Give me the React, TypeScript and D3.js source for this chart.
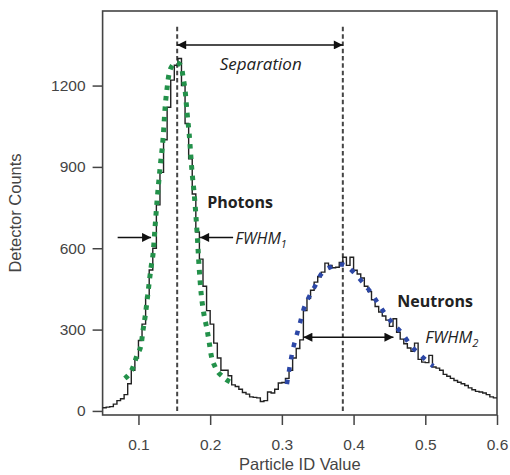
import { useEffect, useRef } from 'react'
import * as d3 from 'd3'

// histogram: bins of 0.005 starting at 0.05
const BIN_START = 0.05
const BIN_WIDTH = 0.005
const counts = [
  12, 14, 16, 25, 38, 45, 60, 100, 150, 195,
  260, 320, 420, 520, 600, 760, 880, 1000, 1120, 1220,
  1275, 1300, 1200, 1060, 930, 800, 660, 560, 460, 370,
  320, 250, 195, 150, 150, 130, 96, 90, 80, 68,
  62, 52, 50, 48, 35, 38, 70, 66, 80, 103,
  105, 120, 150, 195, 230, 262, 370, 415, 445, 475,
  495, 512, 545, 537, 528, 530, 548, 567, 537, 567,
  519, 505, 490, 460, 440, 410, 385, 365, 350, 335,
  312, 340, 290, 265, 248, 232, 220, 250, 190, 180,
  178, 205, 162, 158, 150, 135, 128, 120, 112, 106,
  100, 94, 85, 78, 72, 70, 66, 60, 52, 48,
]

// gaussian fits [particle id, counts]
const photonFit: [number, number][] = [
  [0.081, 120], [0.0925, 162], [0.098, 206], [0.1036, 243], [0.1064, 298],
  [0.1092, 346], [0.1134, 438], [0.1176, 530], [0.1204, 581], [0.1232, 680],
  [0.126, 777], [0.1302, 898], [0.1344, 1008], [0.1372, 1120], [0.14, 1192],
  [0.1427, 1244], [0.147, 1273], [0.1525, 1285], [0.1595, 1273], [0.1623, 1230],
  [0.1651, 1181], [0.1679, 1097], [0.1707, 1023], [0.1749, 876], [0.1777, 802],
  [0.1818, 655], [0.1846, 530], [0.1874, 434], [0.1905, 370], [0.1958, 298],
  [0.1986, 254], [0.2014, 206], [0.207, 162], [0.218, 125], [0.235, 100],
]
const neutronFit: [number, number][] = [
  [0.307, 99], [0.31, 148], [0.3127, 191], [0.3163, 237], [0.321, 283],
  [0.3257, 329], [0.33, 372], [0.337, 416], [0.3457, 458], [0.3536, 500],
  [0.3676, 530], [0.384, 540], [0.4, 512], [0.412, 476], [0.4235, 439],
  [0.4328, 402], [0.442, 366], [0.4538, 325], [0.4677, 286], [0.4793, 243],
  [0.4933, 206], [0.511, 165],
]

const xTicks = [0.1, 0.2, 0.3, 0.4, 0.5, 0.6]
const yTicks = [0, 300, 600, 900, 1200]
const peakCenters = [0.154, 0.385]

const tickFont = '"Liberation Sans", Arial, sans-serif'
const noteFont = '"Open Sans", "Noto Sans", sans-serif'

export default function App() {
  const svgRef = useRef<SVGSVGElement>(null)

  useEffect(() => {
    if (!svgRef.current) return
    const W = 510
    const H = 475
    const pad = { l: 102.6, r: 13, t: 11, b: 60 }
    const svg = d3.select(svgRef.current)
    svg.selectAll('*').remove()

    const x = d3.scaleLinear().domain([0.05, 0.6]).range([pad.l, W - pad.r])
    const y = d3.scaleLinear().domain([-15, 1475]).range([H - pad.b, pad.t])

    const defs = svg.append('defs')
    defs.append('marker')
      .attr('id', 'arr')
      .attr('viewBox', '0 0 10 10')
      .attr('refX', 10).attr('refY', 5)
      .attr('markerWidth', 11).attr('markerHeight', 9)
      .attr('markerUnits', 'userSpaceOnUse')
      .attr('orient', 'auto-start-reverse')
      .append('path').attr('d', 'M0,0 L10,5 L0,10 z').attr('fill', '#111')

    // axes
    const ax = svg.append('g').attr('transform', `translate(0,${H - pad.b})`)
      .call(d3.axisBottom(x).tickValues(xTicks).tickSize(10).tickPadding(14).tickFormat(d3.format('.1f')))
    const ay = svg.append('g').attr('transform', `translate(${pad.l},0)`)
      .call(d3.axisLeft(y).tickValues(yTicks).tickSize(10).tickPadding(7).tickFormat(d3.format('d')))
    ;[ax, ay].forEach(g => {
      g.select('.domain').remove()
      g.selectAll('line').attr('stroke', '#444').attr('stroke-width', 1.5)
      g.selectAll('text').attr('font-size', 15.5).attr('font-family', tickFont).attr('fill', '#444')
    })

    svg.append('rect')
      .attr('x', pad.l).attr('y', pad.t)
      .attr('width', W - pad.r - pad.l).attr('height', H - pad.b - pad.t)
      .attr('fill', 'none').attr('stroke', '#444').attr('stroke-width', 1.6)

    svg.append('text')
      .attr('x', (pad.l + W - pad.r) / 2).attr('y', 470)
      .attr('text-anchor', 'middle').attr('font-size', 16.5).attr('font-family', tickFont).attr('fill', '#444')
      .text('Particle ID Value')
    svg.append('text')
      .attr('transform', `translate(21,${(pad.t + H - pad.b) / 2}) rotate(-90)`)
      .attr('text-anchor', 'middle').attr('font-size', 16.5).attr('font-family', tickFont).attr('fill', '#444')
      .text('Detector Counts')

    // peak centre markers
    peakCenters.forEach(p => {
      svg.append('line')
        .attr('x1', x(p)).attr('x2', x(p)).attr('y1', y(0)).attr('y2', y(1420))
        .attr('stroke', '#444').attr('stroke-width', 2).attr('stroke-dasharray', '4.5 2.8')
    })

    // histogram
    const steps: [number, number][] = counts.map((c, i) => [BIN_START + i * BIN_WIDTH, c])
    steps.push([BIN_START + counts.length * BIN_WIDTH, counts[counts.length - 1]])
    const line = d3.line<[number, number]>().x(d => x(d[0])).y(d => y(d[1]))
    svg.append('path')
      .attr('d', line.curve(d3.curveStepAfter)(steps))
      .attr('fill', 'none').attr('stroke', '#222').attr('stroke-width', 1.4)

    // fits
    const fitLine = d3.line<[number, number]>().x(d => x(d[0])).y(d => y(d[1])).curve(d3.curveMonotoneX)
    svg.append('path').attr('d', fitLine(photonFit))
      .attr('fill', 'none').attr('stroke', '#23914a').attr('stroke-width', 5).attr('stroke-dasharray', '4.5 6')
    svg.append('path').attr('d', fitLine(neutronFit))
      .attr('fill', 'none').attr('stroke', '#2c47a6').attr('stroke-width', 4.5).attr('stroke-dasharray', '4.5 8')

    // arrows
    const arrow = (x1: number, x2: number, yv: number, both: boolean) => {
      const l = svg.append('line')
        .attr('x1', x(x1)).attr('x2', x(x2)).attr('y1', y(yv)).attr('y2', y(yv))
        .attr('stroke', '#111').attr('stroke-width', 1.5)
        .attr('marker-end', 'url(#arr)')
      if (both) l.attr('marker-start', 'url(#arr)')
    }
    arrow(peakCenters[0], peakCenters[1], 1350, true)
    arrow(0.071, 0.1176, 640, false)
    arrow(0.232, 0.186, 640, false)
    arrow(0.33, 0.4556, 272, true)

    // labels
    const note = (xv: number, yv: number, t: string, size: number, opts: { bold?: boolean; italic?: boolean; anchor?: string; sub?: string }) => {
      const el = svg.append('text')
        .attr('x', x(xv)).attr('y', y(yv))
        .attr('font-family', noteFont).attr('font-size', size).attr('fill', '#222')
        .attr('text-anchor', opts.anchor || 'start')
        .attr('font-weight', opts.bold ? 700 : 400)
        .attr('font-style', opts.italic ? 'italic' : 'normal')
      el.append('tspan').text(t)
      if (opts.sub) el.append('tspan').attr('dy', 4).attr('font-size', size * 0.68).text(opts.sub)
    }
    note(0.2705, 1257, 'Separation', 17, { italic: true, anchor: 'middle' })
    note(0.1958, 748, 'Photons', 16, { bold: true })
    note(0.235, 616, 'FWHM', 16, { italic: true, sub: '1' })
    note(0.461, 383, 'Neutrons', 16, { bold: true })
    note(0.5, 250, 'FWHM', 16.5, { italic: true, sub: '2' })
  }, [])

  return (
    <div style={{ position: 'absolute', left: 0, top: 0 }}>
      <svg ref={svgRef} width={510} height={475} style={{ display: 'block', background: '#fff' }} />
    </div>
  )
}
